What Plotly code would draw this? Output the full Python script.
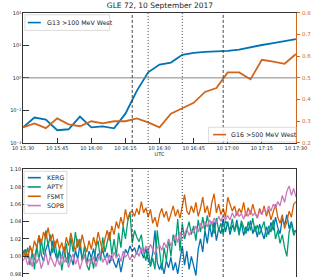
import pandas as pd
import plotly.graph_objects as go

# ---------------- data ----------------
g13_log = [-1.52, -1.22, -1.28, -1.61, -1.58, -1.19, -1.52, -1.49, -1.55, -1.10,
           -0.40, 0.17, 0.41, 0.47, 0.71, 0.77, 0.80, 0.81, 0.83, 0.87,
           0.95, 1.01, 1.07, 1.13, 1.19]
g13 = [10 ** v for v in g13_log]
g16 = [0.272, 0.290, 0.268, 0.313, 0.286, 0.277, 0.300, 0.290, 0.300, 0.300,
       0.313, 0.295, 0.272, 0.335, 0.360, 0.385, 0.435, 0.453, 0.525, 0.525,
       0.493, 0.583, 0.575, 0.565, 0.610]

kerg = [1.003, 1.008, 0.998, 1.012, 1.005, 0.996, 1.010, 1.024, 1.002, 0.994, 1.008, 1.015, 0.999, 1.018, 1.004,
        0.995, 1.006, 0.998, 1.011, 0.993, 1.004, 1.000, 0.990, 1.007, 0.997, 1.013, 0.995, 1.002, 0.992, 1.006,
        0.998, 1.009, 0.994, 1.003, 0.999, 1.008, 0.996, 1.004, 0.992, 1.001, 0.993, 0.987, 0.998, 0.982, 0.995,
        1.008, 1.003, 1.012, 1.006, 1.010, 1.002, 1.013, 1.005, 0.998, 1.009, 0.996, 0.990, 1.004, 1.030, 0.993,
        0.985, 0.992, 0.980, 0.995, 0.987, 0.999, 0.984, 0.993, 0.980, 0.996, 1.012, 0.990, 1.006, 0.985, 1.000,
        0.989, 0.978, 1.008, 1.020, 1.005, 1.030, 1.015, 1.036, 1.022, 1.040, 1.018, 1.032, 1.026, 1.043, 1.028,
        1.040, 1.025, 1.036, 1.030, 1.042, 1.027, 1.038, 1.024, 1.034, 1.029, 1.041, 1.026, 1.035, 1.022, 1.037,
        1.028, 1.020, 1.034, 1.025, 1.039, 1.030, 1.045, 1.033, 1.026, 1.044, 1.036, 1.048, 1.032, 1.040, 1.028,
        1.030]
apty = [1.007, 1.000, 1.010, 0.990, 1.005, 0.985, 1.012, 0.995, 1.020, 1.002, 1.030, 1.012, 1.025, 1.004, 1.018,
        0.998, 1.008, 0.984, 1.000, 1.015, 0.992, 1.022, 1.005, 1.028, 1.010, 1.020, 0.995, 1.012, 0.990, 0.984,
        1.000, 0.986, 1.010, 1.018, 0.995, 1.022, 1.005, 1.015, 1.028, 1.002, 1.020, 1.000, 1.027, 1.010, 1.035,
        1.020, 1.040, 1.051, 1.015, 1.030, 1.022, 1.017, 1.025, 1.005, 0.995, 1.010, 0.988, 0.998, 0.985, 1.030,
        1.005, 0.984, 1.010, 0.995, 1.020, 1.000, 1.025, 1.012, 1.043, 1.006, 1.038, 1.020, 1.030, 1.040, 1.025,
        1.035, 1.018, 1.042, 1.028, 1.045, 1.030, 1.047, 1.032, 1.040, 1.026, 1.044, 1.030, 1.038, 1.025, 1.041,
        1.036, 1.030, 1.043, 1.028, 1.038, 1.024, 1.041, 1.032, 1.026, 1.040, 1.030, 1.044, 1.028, 1.036, 1.025,
        1.033, 1.040, 1.022, 1.035, 1.028, 1.042, 1.020, 1.030, 1.015, 1.025, 1.010, 1.000, 1.028, 1.038, 1.024,
        1.030]
fsmt = [1.000, 1.006, 0.998, 1.012, 1.004, 1.018, 1.010, 1.024, 1.015, 1.028, 1.020, 1.033, 1.018, 1.026, 1.010,
        1.020, 1.008, 1.016, 1.004, 1.022, 1.012, 1.027, 1.015, 1.006, 1.020, 1.010, 1.025, 1.013, 1.005, 1.018,
        1.008, 1.022, 1.012, 1.028, 1.016, 1.006, 1.020, 1.030, 1.018, 1.035, 1.025, 1.040, 1.032, 1.045, 1.035,
        1.054, 1.042, 1.050, 1.052, 1.046, 1.055, 1.048, 1.063, 1.050, 1.056, 1.045, 1.054, 1.038, 1.045, 1.034,
        1.048, 1.055, 1.045, 1.052, 1.040, 1.050, 1.058, 1.046, 1.054, 1.044, 1.060, 1.071, 1.052, 1.048, 1.058,
        1.050, 1.062, 1.046, 1.055, 1.068, 1.050, 1.058, 1.045, 1.062, 1.072, 1.050, 1.060, 1.048, 1.055, 1.045,
        1.068, 1.060, 1.052, 1.058, 1.047, 1.055, 1.050, 1.062, 1.046, 1.056, 1.048, 1.060, 1.050, 1.044, 1.055,
        1.048, 1.058, 1.046, 1.054, 1.042, 1.050, 1.060, 1.045, 1.038, 1.048, 1.032, 1.040, 1.052, 1.045, 1.060,
        1.063]
sopb = [0.995, 1.000, 0.990, 0.998, 0.988, 1.003, 0.992, 0.999, 0.986, 0.996, 1.004, 0.990, 1.000, 0.994, 0.988,
        0.998, 0.990, 1.002, 0.993, 0.999, 0.987, 0.996, 1.003, 0.991, 0.998, 0.985, 0.995, 1.001, 0.990, 0.997,
        0.992, 1.000, 0.988, 0.997, 1.004, 0.993, 0.999, 0.990, 1.002, 0.995, 1.005, 0.998, 1.003, 0.994, 1.006,
        0.999, 1.003, 0.996, 1.002, 0.998, 1.006, 1.000, 1.010, 1.004, 1.012, 1.006, 1.014, 1.008, 1.002, 1.010,
        1.013, 1.007, 1.016, 1.010, 1.020, 1.012, 1.018, 1.025, 1.016, 1.028, 1.020, 1.026, 1.032, 1.024, 1.030,
        1.027, 1.035, 1.028, 1.038, 1.032, 1.040, 1.034, 1.042, 1.036, 1.044, 1.038, 1.046, 1.040, 1.047, 1.042,
        1.047, 1.042, 1.050, 1.044, 1.052, 1.046, 1.049, 1.043, 1.051, 1.046, 1.053, 1.047, 1.050, 1.044, 1.052,
        1.048, 1.055, 1.049, 1.058, 1.052, 1.060, 1.055, 1.063, 1.058, 1.070, 1.062, 1.075, 1.081, 1.070, 1.078,
        1.068]

goes_times = pd.date_range("2017-09-10 15:30", "2017-09-10 17:30", freq="5min")
nm_times = pd.date_range("2017-09-10 15:30", "2017-09-10 17:30", freq="1min")
event_lines = [("2017-09-10 16:18", "3px,2px"), ("2017-09-10 16:25", "1px,2px"),
               ("2017-09-10 16:40", "1px,2px"), ("2017-09-10 16:58", "3px,2px")]
x_ticks = pd.date_range("2017-09-10 15:30", "2017-09-10 17:30", freq="15min")
x_ticktext = [t.strftime("10 %H:%M") for t in x_ticks]
log_ticks = [0.01, 0.1, 1, 10, 100]
log_ticktext = ["10⁻²", "10⁻¹", "10⁰", "10¹", "10²"]
lin_ticks = [0.2, 0.3, 0.4, 0.5, 0.6, 0.7, 0.8]
nm_ticks = [0.98, 1.00, 1.02, 1.04, 1.06, 1.08, 1.10]

BLUE, GREEN, ORANGE, PINK = "#0173b2", "#029e73", "#d55e00", "#cc78bc"
G16C = "#d0661c"
W, H = 320, 280
FONT = "DejaVu Sans"


def px(x):
    return x / W


def py(y):
    return max(0.0, min(1.0, 1 - y / H))


XD = [px(13), px(306)]
TOPD = [py(143), py(10)]
BOTD = [0.0, py(170)]

fig = go.Figure()
fig.add_trace(go.Scatter(x=goes_times, y=g13, mode="lines", line=dict(color=BLUE, width=1.8),
                         xaxis="x", yaxis="y", name="G13 >100 MeV West", showlegend=False))
fig.add_trace(go.Scatter(x=goes_times, y=g16, mode="lines", line=dict(color=G16C, width=1.8),
                         xaxis="x", yaxis="y2", name="G16 >500 MeV West", showlegend=False))
for name, vals, col in [("KERG", kerg, BLUE), ("APTY", apty, GREEN), ("FSMT", fsmt, ORANGE), ("SOPB", sopb, PINK)]:
    fig.add_trace(go.Scatter(x=nm_times, y=vals, mode="lines", line=dict(color=col, width=1.3),
                             xaxis="x2", yaxis="y3", name=name, showlegend=False))

tickfont = dict(family=FONT, size=5, color="#222")
xr = ["2017-09-10 15:30", "2017-09-10 17:30"]
fig.update_layout(
    width=W, height=H, margin=dict(l=0, r=0, t=0, b=0),
    paper_bgcolor="white", plot_bgcolor="white", showlegend=False,
    font=dict(family=FONT, size=6, color="#222"),
    xaxis=dict(domain=XD, anchor="y", range=xr, tickvals=x_ticks, ticktext=x_ticktext,
               showgrid=False, zeroline=False, showline=True, linecolor="#333", linewidth=0.8,
               mirror=True, ticks="inside", ticklen=5, tickcolor="#333", tickwidth=0.8,
               tickfont=tickfont, ticklabelstandoff=0,
               title=dict(text="UTC", font=dict(family=FONT, size=5, color="#222"), standoff=1)),
    yaxis=dict(domain=TOPD, anchor="x", type="log", range=[-2, 2], tickvals=log_ticks,
               ticktext=log_ticktext, showgrid=False, zeroline=False, showline=True,
               linecolor="#333", linewidth=0.8, ticks="inside", ticklen=6, tickcolor="#333",
               tickwidth=0.8, tickfont=tickfont, ticklabelstandoff=0),
    yaxis2=dict(overlaying="y", side="right", anchor="x", range=[0.2, 0.8], tickvals=lin_ticks,
                ticktext=[f"{v:.1f}" for v in lin_ticks], showgrid=False, zeroline=False,
                showline=True, linecolor=G16C, linewidth=0.8, ticks="outside", ticklen=3,
                tickcolor=G16C, tickwidth=0.8, tickfont=dict(family=FONT, size=5.5, color=G16C),
                ticklabelstandoff=1),
    xaxis2=dict(domain=XD, anchor="y3", range=xr, side="top", showticklabels=False, ticks="",
                showgrid=False, zeroline=False, showline=True, linecolor="#333", linewidth=0.8),
    yaxis3=dict(domain=BOTD, anchor="x2", range=[0.9763, 1.10], tickvals=nm_ticks,
                ticktext=[f"{v:.2f}" for v in nm_ticks], showgrid=False, zeroline=False,
                showline=True, mirror=True, linecolor="#333", linewidth=0.8, ticks="inside",
                ticklen=6, tickcolor="#333", tickwidth=0.8, tickfont=tickfont, ticklabelstandoff=0),
    title=dict(text="GLE 72, 10 September 2017", x=0.5, xanchor="center", y=py(5), yanchor="middle",
               font=dict(family=FONT, size=7.5, color="#222")),
)

shapes = []
# horizontal reference line at 10^0 (0.5 on the right axis)
shapes.append(dict(type="line", xref="x domain", yref="y2", x0=0, x1=1, y0=0.5, y1=0.5,
                   line=dict(color="#777", width=0.9)))
for t, dash in event_lines:
    for ya in ["y domain", "y3 domain"]:
        xr_ = "x" if ya == "y domain" else "x2"
        shapes.append(dict(type="line", xref=xr_, yref=ya, x0=t, x1=t, y0=0, y1=1,
                           line=dict(color="#333", width=0.9, dash=dash)))

annotations = []


def legend_box(x0, y0, x1, y1, entries, xline, xtext, ys):
    shapes.append(dict(type="rect", xref="paper", yref="paper", x0=px(x0), x1=px(x1),
                       y0=py(y1), y1=py(y0), fillcolor="rgba(255,255,255,0.85)",
                       line=dict(color="#ccc", width=0.7), layer="above"))
    for (label, col), yy in zip(entries, ys):
        shapes.append(dict(type="line", xref="paper", yref="paper", x0=px(xline[0]), x1=px(xline[1]),
                           y0=py(yy), y1=py(yy), line=dict(color=col, width=1.6), layer="above"))
        annotations.append(dict(text=label, xref="paper", yref="paper", x=px(xtext), y=py(yy),
                                xanchor="left", yanchor="middle", showarrow=False,
                                font=dict(family=FONT, size=6.3, color="#222")))


legend_box(15, 12, 106, 28, [("G13 >100 MeV West", BLUE)], (18, 32), 36, [20])
legend_box(212, 127, 306, 142, [("G16 >500 MeV West", G16C)], (217, 231), 234, [134.5])
legend_box(14, 172, 60, 215, [("KERG", BLUE), ("APTY", GREEN), ("FSMT", ORANGE), ("SOPB", PINK)],
           (18, 32), 36, [178.5, 188, 197.5, 207])

fig.update_layout(shapes=shapes, annotations=annotations)
fig.write_html("out.html")
